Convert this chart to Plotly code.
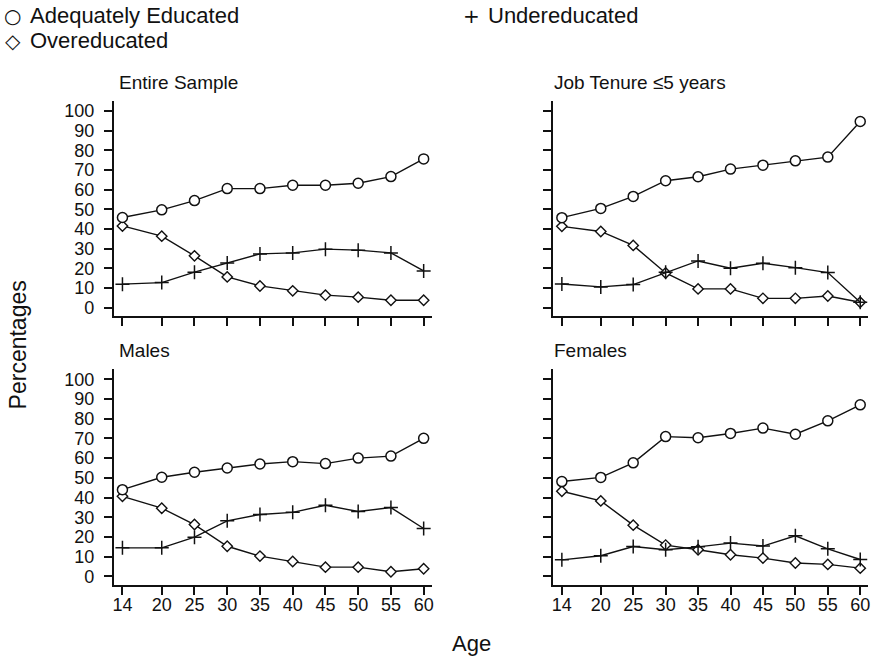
import plotly.graph_objects as go

ages = [14, 20, 25, 30, 35, 40, 45, 50, 55, 60]
age_ticks = [14, 20, 25, 30, 35, 40, 45, 50, 55, 60]
pct_ticks = [0, 10, 20, 30, 40, 50, 60, 70, 80, 90, 100]

panel_titles = ["Entire Sample", "Job Tenure \u22645 years", "Males", "Females"]

entire_adequate = [45.8, 49.7, 54.4, 60.5, 60.5, 62.2, 62.2, 63.2, 66.6, 75.6]
entire_over = [41.5, 36.3, 26.3, 15.6, 11.0, 8.5, 6.3, 5.3, 3.7, 3.7]
entire_under = [11.9, 12.7, 18.0, 22.7, 27.3, 27.8, 29.7, 29.2, 27.8, 18.6]

tenure_adequate = [45.7, 50.4, 56.5, 64.5, 66.5, 70.4, 72.4, 74.6, 76.5, 94.6]
tenure_over = [41.3, 38.7, 31.6, 17.6, 9.5, 9.5, 4.7, 4.7, 5.9, 2.7]
tenure_under = [12.0, 10.5, 11.7, 17.9, 23.7, 20.0, 22.5, 20.3, 17.8, 2.7]

males_adequate = [44.0, 50.3, 52.8, 55.0, 57.0, 58.2, 57.2, 60.0, 61.0, 70.0]
males_over = [40.6, 34.6, 26.3, 15.3, 10.3, 7.6, 4.7, 4.7, 2.4, 3.9]
males_under = [14.5, 14.5, 19.9, 28.2, 31.4, 32.5, 36.1, 32.9, 34.9, 24.3]

females_adequate = [48.1, 50.2, 57.6, 70.9, 70.3, 72.5, 75.2, 72.1, 78.9, 87.0]
females_over = [43.2, 38.3, 26.0, 15.9, 13.5, 11.0, 9.3, 6.8, 6.1, 4.2]
females_under = [8.4, 10.5, 15.2, 13.5, 15.0, 16.9, 15.4, 20.6, 14.0, 8.6]

panels = [
    (entire_adequate, entire_over, entire_under),
    (tenure_adequate, tenure_over, tenure_under),
    (males_adequate, males_over, males_under),
    (females_adequate, females_over, females_under),
]

W, H = 875, 659
FONT = "Liberation Sans, Arial, Helvetica, sans-serif"
INK = "#111111"

# panel pixel boxes (left, right, top, bottom)
xdoms = [(113, 432), (554, 870)]
ydoms = [(101.2, 316.9), (369.9, 586.2)]
title_dx = [4, 0]

fig = go.Figure()

layout = dict(
    width=W, height=H,
    margin=dict(l=0, r=0, t=0, b=0),
    paper_bgcolor="white", plot_bgcolor="white",
    showlegend=False,
    font=dict(family=FONT, color=INK, size=18),
)

annotations = []
for i, (adq, over, under) in enumerate(panels):
    r, c = divmod(i, 2)
    n = i + 1
    xa = "x" if n == 1 else f"x{n}"
    ya = "y" if n == 1 else f"y{n}"
    xl, xr = xdoms[c]
    yt, yb = ydoms[r]
    layout["xaxis" if n == 1 else f"xaxis{n}"] = dict(
        domain=[xl / W, xr / W], anchor=ya, range=[12.65, 61.2],
        tickmode="array", tickvals=age_ticks,
        ticktext=[str(t) for t in age_ticks] if r == 1 else [""] * len(age_ticks),
        ticks="outside", ticklen=8, tickwidth=1.5, tickcolor=INK,
        showline=True, linecolor=INK, linewidth=1.5, showgrid=False, zeroline=False,
        tickfont=dict(size=18, family=FONT, color=INK),
        ticklabelstandoff=-6,
    )
    layout["yaxis" if n == 1 else f"yaxis{n}"] = dict(
        domain=[1 - yb / H, 1 - yt / H], anchor=xa, range=[-4.5, 105],
        tickmode="array", tickvals=pct_ticks,
        ticktext=[str(t) for t in pct_ticks] if c == 0 else [""] * len(pct_ticks),
        ticks="outside", ticklen=8, tickwidth=1.5, tickcolor=INK,
        showline=True, linecolor=INK, linewidth=1.5, showgrid=False, zeroline=False,
        tickfont=dict(size=18, family=FONT, color=INK),
        ticklabelstandoff=6,
    )
    fig.add_trace(go.Scatter(
        x=ages, y=over, mode="lines+markers", xaxis=xa, yaxis=ya,
        line=dict(color=INK, width=1.4),
        marker=dict(symbol="diamond", size=8, color="white", line=dict(color=INK, width=1.4)),
    ))
    fig.add_trace(go.Scatter(
        x=ages, y=under, mode="lines+markers", xaxis=xa, yaxis=ya,
        line=dict(color=INK, width=1.4),
        marker=dict(symbol="cross-thin-open", size=10, color=INK, line=dict(color=INK, width=1.5)),
    ))
    fig.add_trace(go.Scatter(
        x=ages, y=adq, mode="lines+markers", xaxis=xa, yaxis=ya,
        line=dict(color=INK, width=1.4),
        marker=dict(symbol="circle", size=10, color="white", line=dict(color=INK, width=1.5)),
    ))
    annotations.append(dict(
        text=panel_titles[i], xref="paper", yref="paper",
        x=(xl - 1 + title_dx[c]) / W, y=1 - (yt - 19) / H, xanchor="left", yanchor="middle",
        showarrow=False, font=dict(size=19, family=FONT, color=INK),
    ))

# legend text
legend_items = [
    ("\u25cb", "Adequately Educated", 12, 27, 16),
    ("\u25c7", "Overeducated", 12, 27, 41),
    ("+", "Undereducated", 472, 487, 16),
]
for sym, label, sx, tx, cy in legend_items:
    annotations.append(dict(text=sym, xref="paper", yref="paper", x=sx / W, y=1 - cy / H,
                            xanchor="center", yanchor="middle", showarrow=False,
                            font=dict(size=20, family="DejaVu Sans", color=INK)))
    annotations.append(dict(text=label, xref="paper", yref="paper", x=tx / W, y=1 - cy / H,
                            xanchor="left", yanchor="middle", showarrow=False,
                            font=dict(size=22, family=FONT, color=INK)))

annotations.append(dict(text="Percentages", xref="paper", yref="paper", x=18 / W, y=1 - 345 / H,
                        xanchor="center", yanchor="middle", textangle=-90, showarrow=False,
                        font=dict(size=23, family=FONT, color=INK)))
annotations.append(dict(text="Age", xref="paper", yref="paper", x=472 / W, y=1 - 644 / H,
                        xanchor="center", yanchor="middle", showarrow=False,
                        font=dict(size=22, family=FONT, color=INK)))

layout["annotations"] = annotations
fig.update_layout(**layout)
fig.write_html("out.html", config={"displayModeBar": False},
               post_script="document.body.style.margin='0';document.body.style.padding='0';")
